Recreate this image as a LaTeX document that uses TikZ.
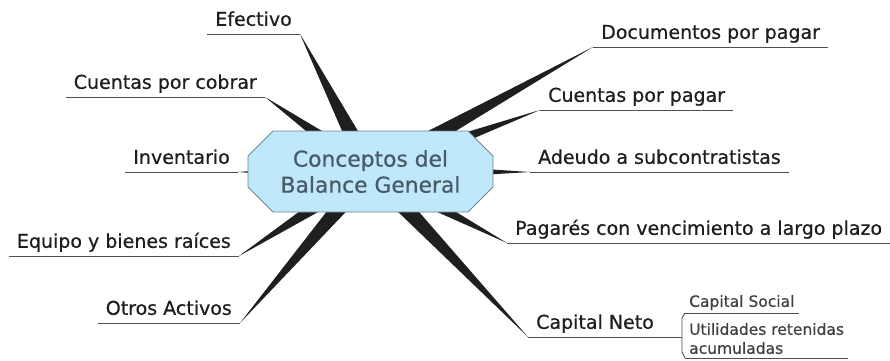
\documentclass[tikz,border=0pt]{standalone}
\usepackage{fontspec}
\usetikzlibrary{calc,shapes.misc,backgrounds}
\newfontfamily\mapfont[FakeBold=0.6]{DejaVu Sans}
\definecolor{MapBlue}{HTML}{BFE9FB}
\definecolor{MapEdge}{HTML}{6E8494}
\definecolor{MapTitle}{HTML}{4B5A68}
\definecolor{MapLine}{HTML}{505050}
\definecolor{MapInk}{HTML}{1E1E1E}

\begin{document}
\begin{tikzpicture}[x=1pt,y=-1pt,
  hub/.style={chamfered rectangle,draw=MapEdge,fill=MapBlue,line width=0.8pt,
    minimum width=245pt,minimum height=81pt,
    chamfered rectangle xsep=10pt,chamfered rectangle ysep=15pt,
    align=center,text=MapTitle,font=\mapfont\fontsize{21.8}{26}\selectfont},
  lab/.style={text=MapInk,inner xsep=8pt,inner ysep=4pt,text depth=4pt,
    font=\mapfont\fontsize{19}{23}\selectfont},
  labl/.style={lab,anchor=south east},
  labr/.style={lab,anchor=south west},
  sub/.style={anchor=south west,text=MapInk!85,inner xsep=4pt,inner ysep=2pt,
    text depth=4pt,align=left,font=\mapfont\fontsize{15.5}{19}\selectfont},
  uline/.style={MapLine,line width=0.9pt},
  spoke/.style={fill=black!88}]
  \useasboundingbox (0,0) rectangle (890,360);
  \node[hub] (hub) at (370.5,171.5) {Conceptos del\\Balance General};
  \node[labl] (efe) at (300,34)  {Efectivo};
  \node[labl] (cxc) at (265,97)  {Cuentas por cobrar};
  \node[labl] (inv) at (238,172) {Inventario};
  \node[labl] (eqp) at (239,256) {Equipo y bienes raíces};
  \node[labl] (otr) at (240,323) {Otros Activos};
  \node[labr] (dxp) at (593,47)  {Documentos por pagar};
  \node[labr] (cxp) at (540,110) {Cuentas por pagar};
  \node[labr] (ade) at (530,172) {Adeudo a subcontratistas};
  \node[labr] (pag) at (507,243) {Pagarés con vencimiento a largo plazo};
  \node[labr] (cap) at (528,337) {Capital Neto};
  \coordinate (cj) at (682,337);
  \node[sub] (csoc) at (685,313) {Capital Social};
  \node[sub,inner ysep=0pt] (util) at (685,358) {Utilidades retenidas\\acumuladas};
  \begin{scope}[on background layer]
    \foreach \h in {efe,cxc,inv,eqp,otr}{
      \fill[spoke] ($(hub.center)!10pt!90:(\h.south east)$) -- (\h.south east)
        -- ($(hub.center)!10pt!-90:(\h.south east)$) -- cycle;
    }
    \foreach \h in {dxp,cxp,ade,pag,cap}{
      \fill[spoke] ($(hub.center)!10pt!90:(\h.south west)$) -- (\h.south west)
        -- ($(hub.center)!10pt!-90:(\h.south west)$) -- cycle;
    }
  \end{scope}
  \foreach \h in {efe,cxc,inv,eqp,otr,dxp,cxp,ade,pag,csoc,util}{
    \draw[uline] (\h.south west) -- (\h.south east);
  }
  \draw[uline] (cap.south west) -- (cj);
  \draw[uline] (csoc.south west) -- ([shift={(-3pt,-5pt)}]csoc.south west)
    -- ([shift={(-3pt,6pt)}]util.south west) -- (util.south west);
\end{tikzpicture}
\end{document}
